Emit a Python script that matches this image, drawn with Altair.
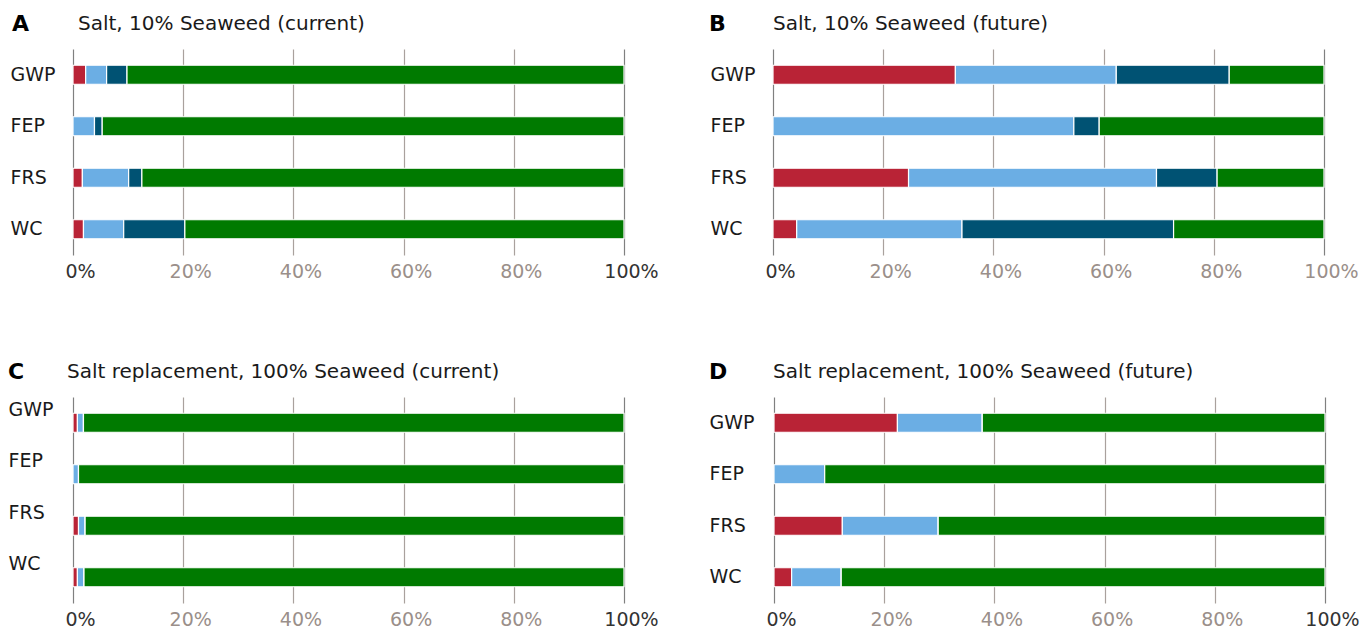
import altair as alt
import pandas as pd

categories = ["GWP", "FEP", "FRS", "WC"]
series = ["s1", "s2", "s3", "s4"]
colors = ["#B92336", "#6BAEE4", "#005273", "#007A00"]
x_ticks = [0, 20, 40, 60, 80, 100]

# Panel A: Salt, 10% Seaweed (current)
a_s1 = [2.3, 0.0, 1.7, 1.9]
a_s2 = [3.8, 3.9, 8.4, 7.3]
a_s3 = [3.7, 1.4, 2.4, 11.1]
a_s4 = [90.2, 94.7, 87.5, 79.7]

# Panel B: Salt, 10% Seaweed (future)
b_s1 = [33.1, 0.0, 24.6, 4.3]
b_s2 = [29.2, 54.6, 45.0, 30.0]
b_s3 = [20.5, 4.6, 11.0, 38.4]
b_s4 = [17.2, 40.8, 19.4, 27.3]

# Panel C: Salt replacement, 100% Seaweed (current)
c_s1 = [0.8, 0.0, 1.0, 0.8]
c_s2 = [1.1, 1.0, 1.2, 1.2]
c_s3 = [0.0, 0.0, 0.0, 0.0]
c_s4 = [98.1, 99.0, 97.8, 98.0]

# Panel D: Salt replacement, 100% Seaweed (future)
d_s1 = [22.4, 0.0, 12.4, 3.2]
d_s2 = [15.4, 9.2, 17.4, 9.0]
d_s3 = [0.0, 0.0, 0.0, 0.0]
d_s4 = [62.2, 90.8, 70.2, 87.8]

FONT = "DejaVu Sans"


def make_df(cols):
    rows = []
    for si, (name, vals) in enumerate(zip(series, cols)):
        for cat, v in zip(categories, vals):
            rows.append({"cat": cat, "series": name, "order": si, "value": v})
    return pd.DataFrame(rows)


def panel(letter, title, cols, label_pad, label_offset_y, title_dx, letter_dx,
          gray_100=False):
    df = make_df(cols)
    if gray_100:
        lab_test = "datum.value === 0"
    else:
        lab_test = "datum.value === 0 || datum.value === 100"
    bars = alt.Chart(df).mark_bar(size=19, stroke="white", strokeWidth=1.2).encode(
        x=alt.X("value:Q", stack="zero",
                scale=alt.Scale(domain=[0, 100], nice=False),
                axis=alt.Axis(values=x_ticks, labelExpr="datum.value + '%'",
                              title=None, domain=False, ticks=False,
                              labelFlush=False, labelOffset=7, labelPadding=7,
                              labelFont=FONT, labelFontSize=19,
                              labelColor={"condition": {"test": lab_test, "value": "#333333"},
                                          "value": "#9A8F8A"},
                              grid=True, gridWidth=1.2,
                              gridColor={"condition": {"test": "datum.value === 0 || datum.value === 100",
                                                       "value": "#808080"},
                                         "value": "#A9A19D"})),
        y=alt.Y("cat:N", sort=categories,
                scale=alt.Scale(paddingInner=0.63, paddingOuter=0.315),
                axis=alt.Axis(title=None, domain=False, ticks=False, grid=False,
                              labelAlign="left",
                              labelPadding=label_pad, labelOffset=label_offset_y,
                              labelFont=FONT, labelFontSize=19, labelColor="#1a1a1a")),
        color=alt.Color("series:N", scale=alt.Scale(domain=series, range=colors), legend=None),
        order=alt.Order("order:Q"),
    )
    letter_mark = alt.Chart(pd.DataFrame({"t": [letter]})).mark_text(
        font=FONT, fontSize=22, fontWeight="bold", align="left", baseline="middle",
        color="#000000").encode(text="t:N", x=alt.value(letter_dx), y=alt.value(-25))
    title_mark = alt.Chart(pd.DataFrame({"t": [title]})).mark_text(
        font=FONT, fontSize=20, align="left", baseline="middle",
        color="#1a1a1a").encode(text="t:N", x=alt.value(title_dx), y=alt.value(-25))
    return alt.layer(bars, letter_mark, title_mark).properties(width=551, height=206)


pA = panel("A", "Salt, 10% Seaweed (current)", [a_s1, a_s2, a_s3, a_s4], 63, 0, 5, -61)
pB = panel("B", "Salt, 10% Seaweed (future)", [b_s1, b_s2, b_s3, b_s4], 63, 0, 0, -64, gray_100=True)
pC = panel("C", "Salt replacement, 100% Seaweed (current)", [c_s1, c_s2, c_s3, c_s4], 65, -13, -6, -65)
pD = panel("D", "Salt replacement, 100% Seaweed (future)", [d_s1, d_s2, d_s3, d_s4], 65, 0, -1, -65)

chart = alt.vconcat(
    alt.hconcat(pA, pB, spacing=50),
    alt.hconcat(pC, pD, spacing=50),
    spacing=80,
).properties(
    padding={"left": 0, "top": 5, "right": 0, "bottom": 0},
    background="white",
).configure_view(stroke=None)

chart.save("out.html", embed_options={"renderer": "svg", "actions": False})
